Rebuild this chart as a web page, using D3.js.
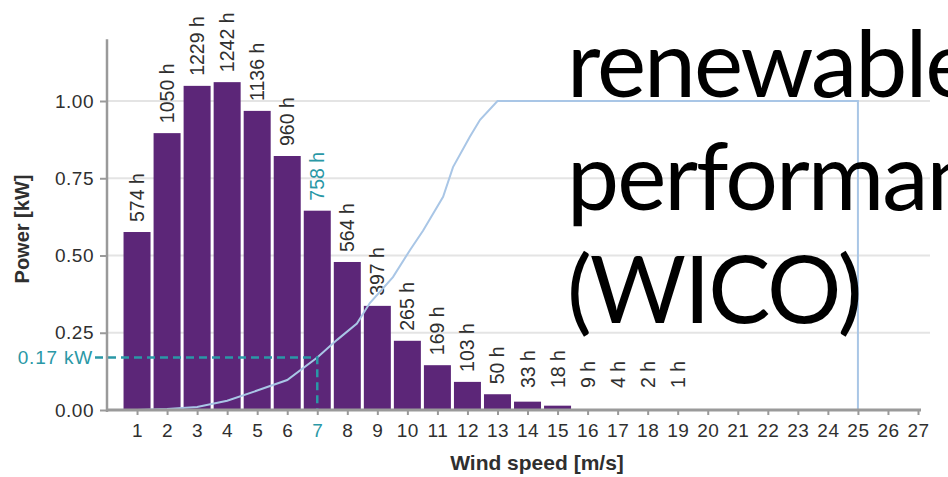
<!DOCTYPE html>
<html>
<head>
<meta charset="utf-8">
<script src="https://cdn.jsdelivr.net/npm/d3@7"></script>
<style>
  body { margin: 0; background: #fff; }
  svg { display: block; }
</style>
</head>
<body>
<svg width="948" height="477"></svg>
<script>
// wind speed classes (m/s)
var speeds = [1, 2, 3, 4, 5, 6, 7, 8, 9, 10, 11, 12, 13, 14, 15, 16, 17, 18, 19, 20, 21, 22, 23, 24, 25, 26, 27];
// hours per year in each class (label above the bar), only up to 19 m/s
var hours = [574, 1050, 1229, 1242, 1136, 960, 758, 564, 397, 265, 169, 103, 50, 33, 18, 9, 4, 2, 1];
// bar heights as drawn on the power axis
var barValues = [0.576, 0.896, 1.049, 1.061, 0.968, 0.822, 0.645, 0.479, 0.337, 0.224, 0.145, 0.091, 0.051, 0.027, 0.014,
  0, 0, 0, 0, 0, 0, 0, 0, 0, 0, 0, 0];
// power curve of the turbine
var curveSpeed = [0, 1, 2, 3, 4, 5, 6, 7, 7.66, 8.32, 8.75, 9.52, 10.09, 10.52, 11.19, 11.52, 12.08, 12.42, 13, 25, 25, 27];
var curvePower = [0, 0, 0.003, 0.01, 0.03, 0.063, 0.097, 0.17, 0.227, 0.28, 0.346, 0.43, 0.518, 0.58, 0.69, 0.786, 0.884, 0.939, 1, 1, 0, 0];
var yTicks = [0, 0.25, 0.5, 0.75, 1.0];
var markSpeed = 7, markPower = 0.17;
var overlayLines = ["renewable energy", "performance", "(WICO)"];

var svg = d3.select("svg");
var teal = "#2a98a6", purple = "#5c2678", txt = "#2f2f2f";

var x = d3.scaleLinear().domain([0, 27]).range([107, 918]);
var y = d3.scaleLinear().domain([0, 1.2]).range([410, 39.2]);
var barW = 27;

// grid
svg.append("g").selectAll("line")
	.data(yTicks.slice(1))
	.enter().append("line")
	.attr("x1", x(0)).attr("x2", 930)
	.attr("y1", function(d){ return y(d); })
	.attr("y2", function(d){ return y(d); })
	.attr("stroke", "#e4e4e4").attr("stroke-width", 2);

// bars
svg.append("g").selectAll("rect")
	.data(speeds.map(function(s, i){ return {s: s, v: barValues[i]}; }).filter(function(d){ return d.v > 0; }))
	.enter().append("rect")
	.attr("x", function(d){ return x(d.s) - barW / 2; })
	.attr("width", barW)
	.attr("y", function(d){ return y(d.v); })
	.attr("height", function(d){ return y(0) - y(d.v); })
	.attr("fill", purple);

// hour labels, rotated
svg.append("g").selectAll("text")
	.data(hours.map(function(h, i){ return {s: speeds[i], h: h, v: barValues[i]}; }))
	.enter().append("text")
	.attr("transform", function(d){
		var ty = Math.min(y(d.v) - 10, y(0) - 22);
		return "translate(" + (x(d.s) + 7) + "," + ty + ") rotate(-90)";
	})
	.attr("font-family", "Liberation Sans, Arial, sans-serif")
	.attr("font-size", 19.5)
	.attr("fill", function(d){ return d.s === markSpeed ? teal : txt; })
	.text(function(d){ return d.h + " h"; });

// power curve
var line = d3.line()
	.x(function(d){ return x(d[0]); })
	.y(function(d){ return y(d[1]); });
svg.append("path")
	.datum(curveSpeed.map(function(s, i){ return [s, curvePower[i]]; }))
	.attr("d", line)
	.attr("fill", "none")
	.attr("stroke", "#a9c6e6")
	.attr("stroke-width", 2);

// 0.17 kW marker
svg.append("path")
	.attr("d", "M" + (x(0) - 12) + "," + y(markPower) + "H" + x(markSpeed) + "V" + y(0))
	.attr("fill", "none")
	.attr("stroke", teal)
	.attr("stroke-width", 2.5)
	.attr("stroke-dasharray", "8,5");

// axes
var xAxis = svg.append("g")
	.attr("transform", "translate(0," + y(0) + ")")
	.call(d3.axisBottom(x).tickValues(speeds).tickSize(5).tickPadding(9).tickFormat(d3.format("d")));
xAxis.select(".domain").attr("d", "M" + x(0) + ",0H921").attr("stroke", "#9a9a9a").attr("stroke-width", 3);

var yAxis = svg.append("g")
	.attr("transform", "translate(" + x(0) + ",0)")
	.call(d3.axisLeft(y).tickValues(yTicks).tickSize(7).tickPadding(6).tickFormat(d3.format(".2f")));
yAxis.select(".domain").attr("d", "M0," + y(1.2) + "V" + (y(0) + 2)).attr("stroke", "#9a9a9a").attr("stroke-width", 2.5);

svg.selectAll(".tick line").attr("stroke", "#9a9a9a").attr("stroke-width", 2);
svg.selectAll(".tick text")
	.attr("font-family", "Liberation Sans, Arial, sans-serif")
	.attr("font-size", 19)
	.attr("letter-spacing", 0.5)
	.attr("fill", txt);
xAxis.selectAll(".tick text").filter(function(d){ return d === markSpeed; }).attr("fill", teal);

svg.append("text")
	.attr("x", x(0) - 14).attr("y", y(markPower) + 7)
	.attr("text-anchor", "end")
	.attr("font-family", "Liberation Sans, Arial, sans-serif")
	.attr("font-size", 19).attr("letter-spacing", 0.8)
	.attr("fill", teal)
	.text(markPower.toFixed(2) + " kW");

// axis titles
svg.append("text")
	.attr("transform", "translate(29,229) rotate(-90)")
	.attr("text-anchor", "middle")
	.attr("font-family", "Liberation Sans, Arial, sans-serif")
	.attr("font-weight", "bold").attr("font-size", 20)
	.attr("fill", txt)
	.text("Power [kW]");

svg.append("text")
	.attr("x", 537).attr("y", 470)
	.attr("text-anchor", "middle")
	.attr("font-family", "Liberation Sans, Arial, sans-serif")
	.attr("font-weight", "bold").attr("font-size", 21)
	.attr("fill", txt)
	.text("Wind speed [m/s]");

// slide text lying over the chart, running off the right edge as in the slide
svg.append("g").selectAll("text")
	.data(overlayLines)
	.enter().append("text")
	.attr("x", 567)
	.attr("y", function(d, i){ return 97 + i * 113; })
	.attr("font-family", "Lato, sans-serif")
	.attr("font-size", 93)
	.attr("letter-spacing", -2)
	.attr("fill", "#000")
	.text(function(d){ return d; });
</script>
</body>
</html>
